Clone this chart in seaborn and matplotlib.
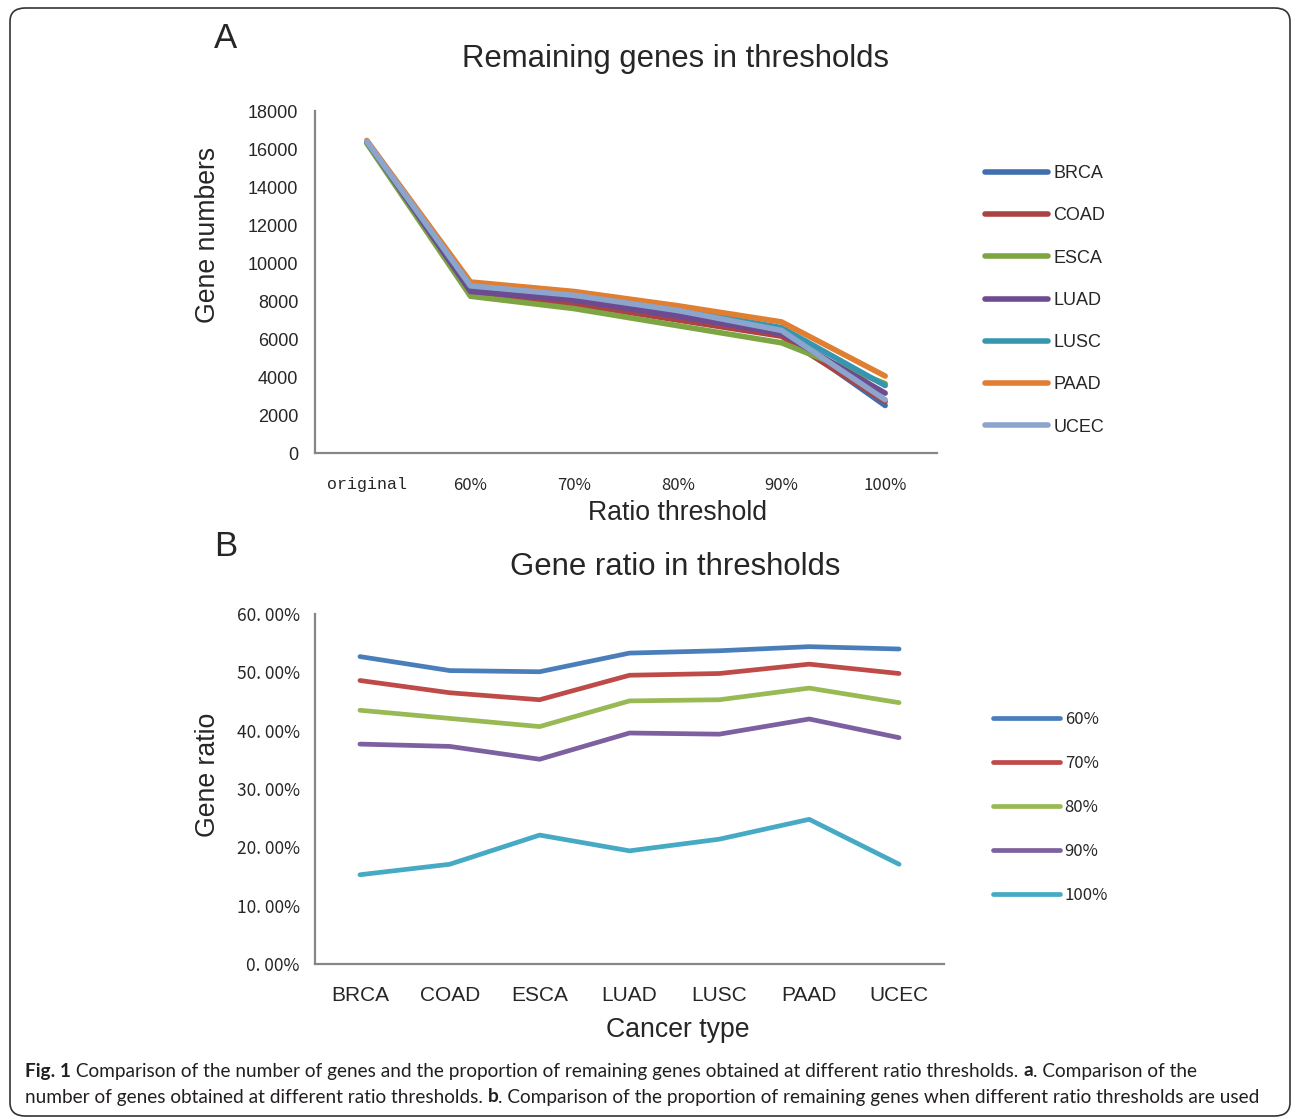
"""Remaining genes / gene ratio at different ratio thresholds (Fig. 1)."""
import matplotlib
matplotlib.use("Agg")
import matplotlib.pyplot as plt
from matplotlib.patches import FancyBboxPatch
import numpy as np
import pandas as pd
import seaborn as sns

# ---- data, panel A ----
thresholds = ["original", "60%", "70%", "80%", "90%", "100%"]
cancers = ["BRCA", "COAD", "ESCA", "LUAD", "LUSC", "PAAD", "UCEC"]
genes_brca = [16400, 8600, 8100, 7250, 6350, 2500]
genes_coad = [16350, 8350, 7850, 7000, 6150, 2700]
genes_esca = [16300, 8250, 7600, 6700, 5800, 3650]
genes_luad = [16400, 8500, 8050, 7200, 6300, 3150]
genes_lusc = [16400, 8800, 8350, 7550, 6600, 3550]
genes_paad = [16450, 9000, 8500, 7750, 6900, 4050]
genes_ucec = [16400, 8800, 8300, 7500, 6450, 2800]
colors_a = ["#416EAF", "#AA4343", "#7DA542", "#6E4B91", "#3796AF", "#E07E32", "#8CA5CD"]

# ---- data, panel B (percent) ----
ratio_levels = ["60%", "70%", "80%", "90%", "100%"]
ratio_60 = [52.7, 50.3, 50.1, 53.3, 53.7, 54.4, 54.0]
ratio_70 = [48.6, 46.5, 45.3, 49.5, 49.8, 51.4, 49.8]
ratio_80 = [43.5, 42.1, 40.7, 45.1, 45.3, 47.3, 44.8]
ratio_90 = [37.7, 37.3, 35.1, 39.6, 39.4, 42.0, 38.8]
ratio_100 = [15.3, 17.1, 22.1, 19.4, 21.4, 24.8, 17.1]
colors_b = ["#4A7EBB", "#BE4B48", "#98B954", "#7D60A0", "#46AAC5"]

y_ticks_a = [0, 2000, 4000, 6000, 8000, 10000, 12000, 14000, 16000, 18000]
y_ticks_b = [0, 10, 20, 30, 40, 50, 60]

W, H = 1292, 1117
SPINE = "#868686"
CJK = ["Noto Sans CJK SC", "DejaVu Sans"]
TITLE_SIZE = 22.4
LABEL_SIZE = 19.2


def fx(px):
    return px / W


def fy(py):
    return 1 - py / H


def style_axes(ax):
    sns.despine(ax=ax)
    for side in ("left", "bottom"):
        ax.spines[side].set_color(SPINE)
        ax.spines[side].set_linewidth(1.6)
    ax.tick_params(length=0)


def main():
    sns.set_style("white")
    plt.rcParams["font.family"] = ["Liberation Sans", "Arimo", "DejaVu Sans"]

    rows = []
    for name, vals in zip(cancers, [genes_brca, genes_coad, genes_esca, genes_luad,
                                    genes_lusc, genes_paad, genes_ucec]):
        for t, v in zip(thresholds, vals):
            rows.append({"threshold": t, "genes": v, "cancer": name})
    df_a = pd.DataFrame(rows)

    rows = []
    for lvl, vals in zip(ratio_levels, [ratio_60, ratio_70, ratio_80, ratio_90, ratio_100]):
        for c, v in zip(cancers, vals):
            rows.append({"cancer": c, "ratio": v, "level": lvl})
    df_b = pd.DataFrame(rows)

    fig = plt.figure(figsize=(W / 100, H / 100), dpi=100)

    # ---------------- panel A ----------------
    ax_a = fig.add_axes([fx(315), fy(453), fx(937) - fx(315), fy(111) - fy(453)])
    sns.lineplot(data=df_a, x="threshold", y="genes", hue="cancer", hue_order=cancers,
                 palette=colors_a, sort=False, linewidth=4.0, ax=ax_a,
                 solid_capstyle="round", solid_joinstyle="round")
    ax_a.set_xlim(-0.5, len(thresholds) - 0.5)
    ax_a.set_ylim(0, 18000)
    ax_a.set_yticks(y_ticks_a)
    ax_a.set_yticklabels([str(v) for v in y_ticks_a], fontsize=13)
    ax_a.set_xticks(range(len(thresholds)))
    ax_a.set_xticklabels(thresholds)
    for lab in ax_a.get_xticklabels():
        if lab.get_text() == "original":
            lab.set_family(["Liberation Mono", "DejaVu Sans Mono"])
        else:
            lab.set_family(CJK)
        lab.set_fontsize(12)
    ax_a.tick_params(axis="y", pad=12)
    ax_a.tick_params(axis="x", pad=17)
    style_axes(ax_a)
    ax_a.set_xlabel("")
    ax_a.set_ylabel("")
    ax_a.legend(loc="upper left", bbox_to_anchor=(fx(985), fy(165)),
                bbox_transform=fig.transFigure, frameon=False, fontsize=13,
                handlelength=3.5, handletextpad=0.3, labelspacing=1.40, borderpad=0,
                borderaxespad=0)
    for line in ax_a.get_legend().get_lines():
        line.set_linewidth(4.0)
        line.set_solid_capstyle("round")

    fig.text(fx(675), fy(59), "Remaining genes in thresholds", fontsize=TITLE_SIZE,
             ha="center", va="center")
    fig.text(fx(678), fy(513), "Ratio threshold", fontsize=LABEL_SIZE,
             ha="center", va="center")
    fig.text(fx(208), fy(235), "Gene numbers", fontsize=LABEL_SIZE, rotation=90,
             ha="center", va="center")

    # ---------------- panel B ----------------
    ax_b = fig.add_axes([fx(315), fy(964), fx(944) - fx(315), fy(614) - fy(964)])
    sns.lineplot(data=df_b, x="cancer", y="ratio", hue="level", hue_order=ratio_levels,
                 palette=colors_b, sort=False, linewidth=3.4, ax=ax_b,
                 solid_capstyle="round", solid_joinstyle="round")
    ax_b.set_xlim(-0.5, len(cancers) - 0.5)
    ax_b.set_ylim(0, 60)
    ax_b.set_yticks(y_ticks_b)
    ax_b.set_yticklabels([f"{v:.2f}".replace(".", ". ") + "%" for v in y_ticks_b],
                         fontsize=12.5, family=CJK)
    ax_b.set_xticks(range(len(cancers)))
    ax_b.set_xticklabels(cancers, fontsize=15)
    ax_b.tick_params(axis="y", pad=11)
    ax_b.tick_params(axis="x", pad=16)
    style_axes(ax_b)
    ax_b.set_xlabel("")
    ax_b.set_ylabel("")
    ax_b.legend(loc="upper left", bbox_to_anchor=(fx(993), fy(711)),
                bbox_transform=fig.transFigure, frameon=False,
                prop={"family": CJK, "size": 12}, handlelength=4.0,
                handletextpad=0.3, labelspacing=1.62, borderpad=0, borderaxespad=0)
    for line in ax_b.get_legend().get_lines():
        line.set_linewidth(3.4)
        line.set_solid_capstyle("round")

    fig.text(fx(675), fy(567), "Gene ratio in thresholds", fontsize=TITLE_SIZE,
             ha="center", va="center")
    fig.text(fx(678), fy(1030), "Cancer type", fontsize=LABEL_SIZE,
             ha="center", va="center")
    fig.text(fx(208), fy(775), "Gene ratio", fontsize=LABEL_SIZE, rotation=90,
             ha="center", va="center")

    # panel letters
    fig.text(fx(226), fy(38), "A", fontsize=25, ha="center", va="center")
    fig.text(fx(226), fy(546), "B", fontsize=25, ha="center", va="center")

    # caption with bold pieces, sized so the second line spans the reference width
    renderer = fig.canvas.get_renderer()
    cap_font = ["Lato", "Open Sans", "DejaVu Sans"]
    cap_lines = [
        (fy(1071), [("Fig. 1", "bold"),
                    (" Comparison of the number of genes and the proportion of remaining genes "
                     "obtained at different ratio thresholds. ", "normal"),
                    ("a", "bold"), (". Comparison of the", "normal")]),
        (fy(1097), [("number of genes obtained at different ratio thresholds. ", "normal"),
                    ("b", "bold"),
                    (". Comparison of the proportion of remaining genes when different ratio "
                     "thresholds are used", "normal")]),
    ]

    def draw_line(y, parts, size):
        x = fx(25)
        made = []
        for txt, weight in parts:
            t = fig.text(x, y, txt, fontsize=size, fontweight=weight, family=cap_font,
                         va="center", ha="left", color="#231F20")
            made.append(t)
            x += t.get_window_extent(renderer).width / fig.bbox.width
        return made, (x - fx(25)) * W

    probe, width = draw_line(cap_lines[1][0], cap_lines[1][1], 14)
    for t in probe:
        t.remove()
    cap_size = 14 * 1240 / width
    for y, parts in cap_lines:
        draw_line(y, parts, cap_size)

    # rounded frame around the figure
    frame = FancyBboxPatch((fx(10), fy(1116)), fx(1290) - fx(10), fy(8) - fy(1116),
                           boxstyle="round,pad=0,rounding_size=0.012",
                           transform=fig.transFigure, fill=False,
                           edgecolor="#333333", linewidth=1.2)
    fig.patches.append(frame)

    fig.savefig("out.png", dpi=100)
    plt.close(fig)


if __name__ == "__main__":
    main()
